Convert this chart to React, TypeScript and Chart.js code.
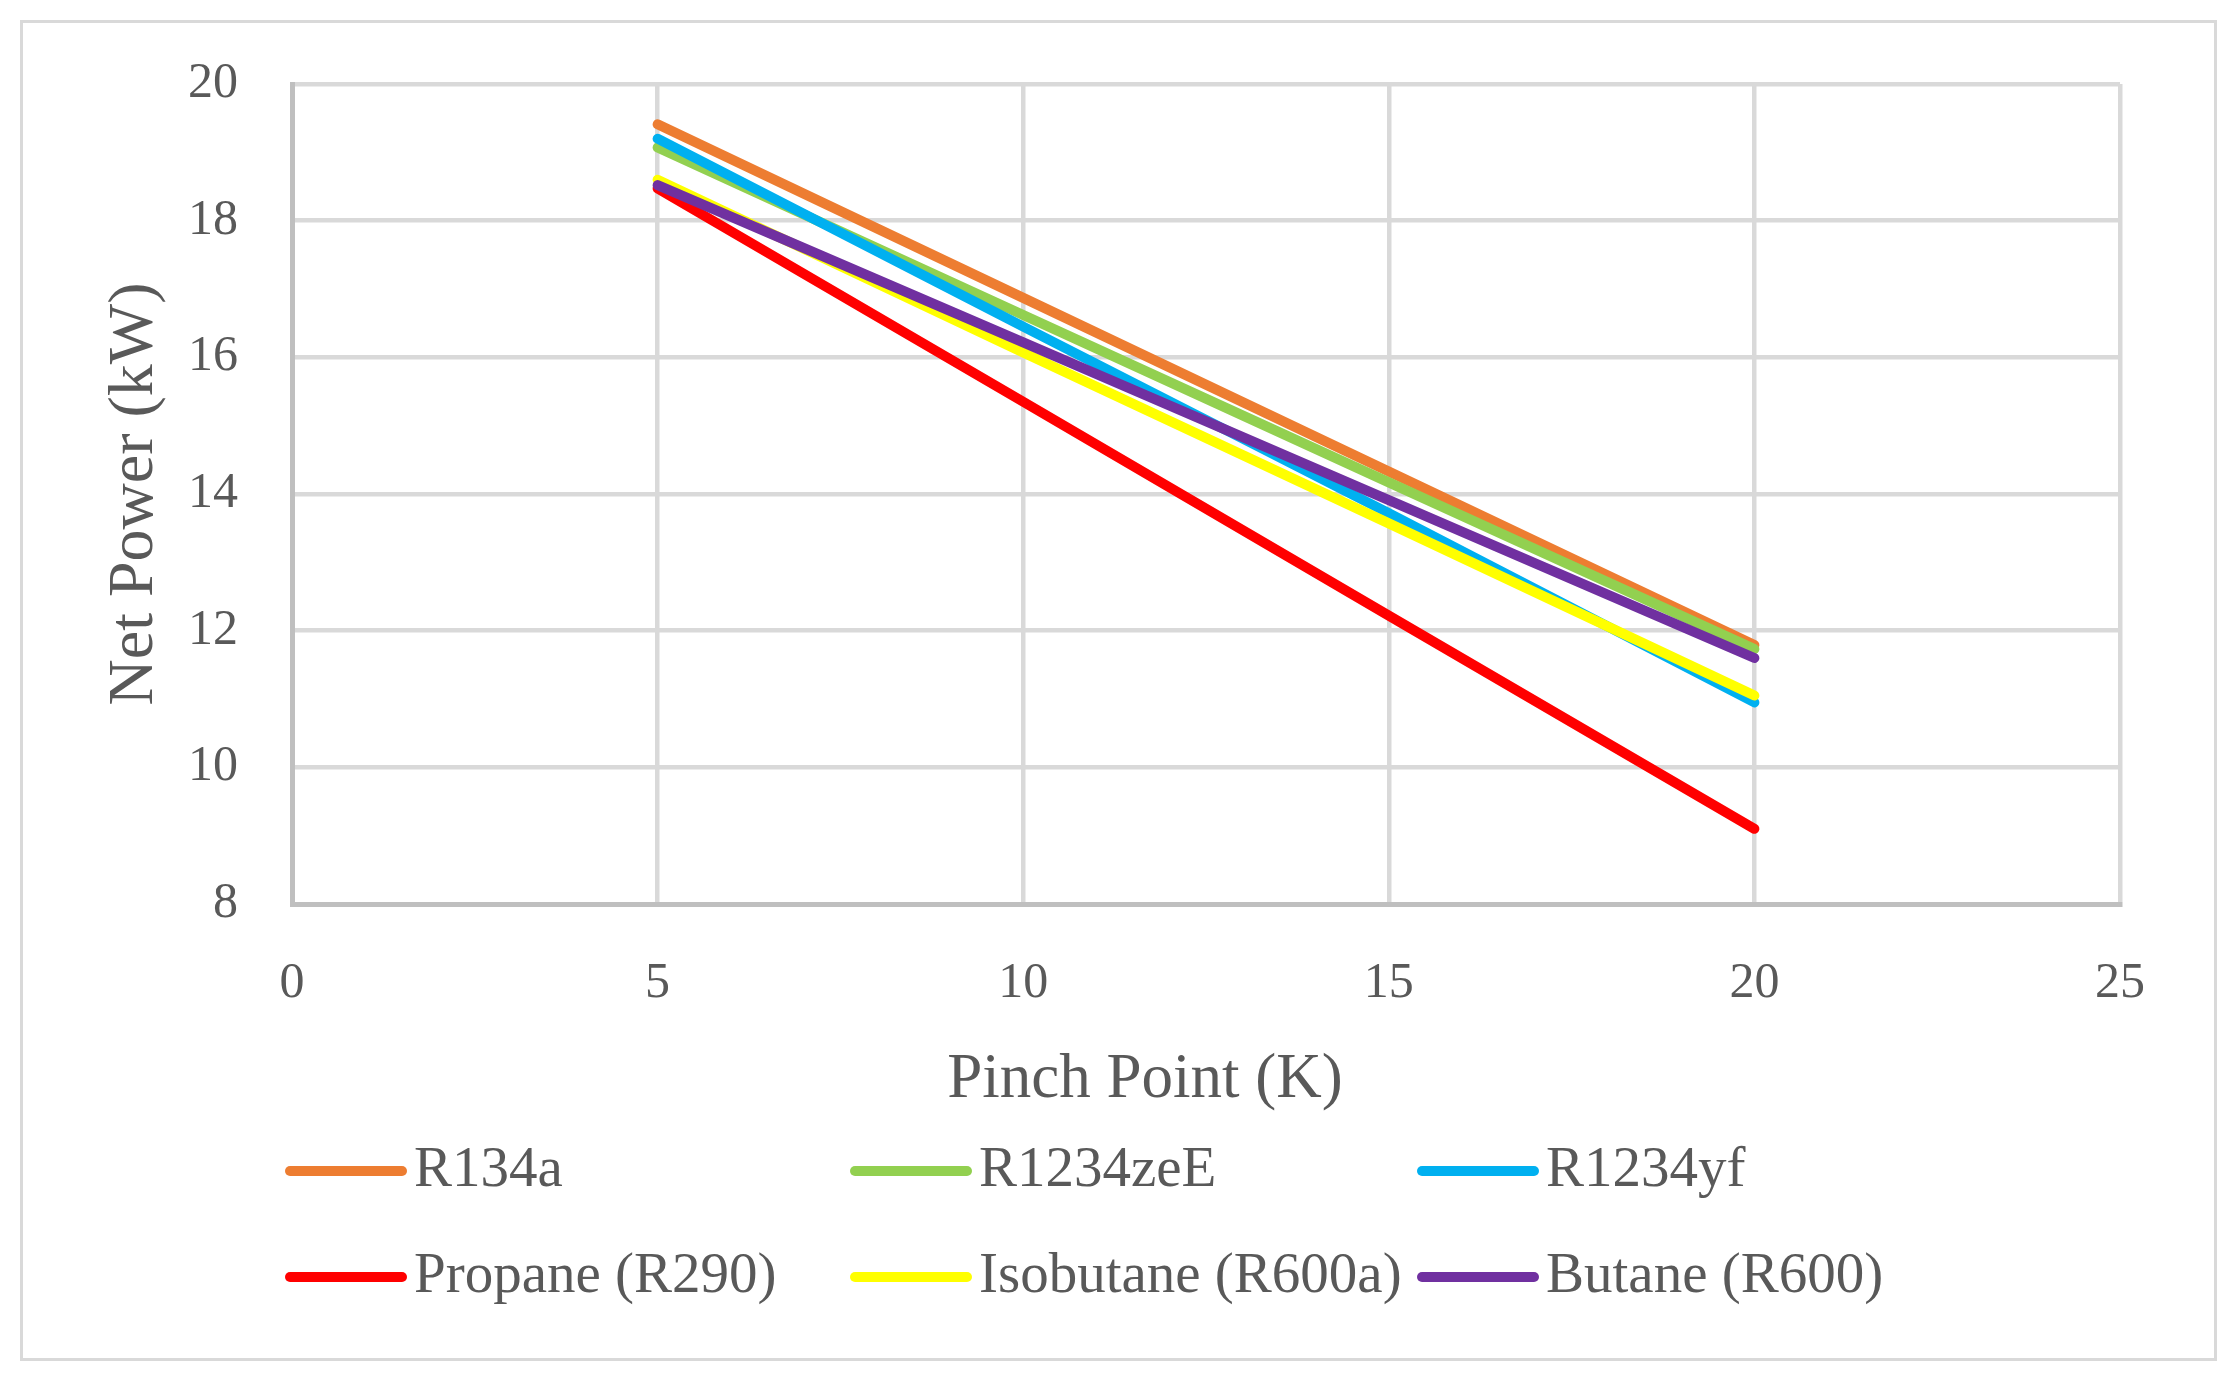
import React, { useEffect, useRef } from "react";
import { Chart, registerables } from "chart.js";

Chart.register(...registerables);

// ---- data ----
const pinchPoints = [5, 10, 15, 20];
const seriesNames = [
  "R134a",
  "R1234zeE",
  "R1234yf",
  "Propane (R290)",
  "Isobutane (R600a)",
  "Butane (R600)",
];
const r134a = [19.41, 16.87, 14.33, 11.79];
const r1234zeE = [19.07, 16.62, 14.17, 11.73];
const r1234yf = [19.2, 16.45, 13.72, 10.95];
const propane = [18.47, 15.35, 12.22, 9.1];
const isobutane = [18.6, 16.07, 13.57, 11.05];
const butane = [18.52, 16.22, 13.91, 11.6];
const seriesValues = [r134a, r1234zeE, r1234yf, propane, isobutane, butane];
const seriesColors = ["#ED7D31", "#92D050", "#00B0F0", "#FF0000", "#FFFF00", "#7030A0"];
const xAxisTitle = "Pinch Point (K)";
const yAxisTitle = "Net Power (kW)";
const xRange = [0, 25, 5];
const yRange = [8, 20, 2];

const FONT = '"Liberation Serif", "Times New Roman", serif';
const TEXT = "#595959";

const legendPlugin = {
  id: "excelLegend",
  afterDraw(chart: any) {
    const ctx = chart.ctx as CanvasRenderingContext2D;
    const cols = [285, 850, 1417];
    const rows = [1171, 1277];
    ctx.save();
    // x axis title (Excel places it slightly left of the plot centre)
    ctx.fillStyle = TEXT;
    ctx.font = `63px ${FONT}`;
    ctx.textBaseline = "middle";
    ctx.textAlign = "center";
    ctx.fillText(xAxisTitle, 1145, 1080);
    chart.data.datasets.forEach((ds: any, i: number) => {
      const x = cols[i % 3];
      const y = rows[Math.floor(i / 3)];
      ctx.strokeStyle = ds.borderColor;
      ctx.lineWidth = 10;
      ctx.lineCap = "round";
      ctx.beginPath();
      ctx.moveTo(x + 5, y);
      ctx.lineTo(x + 117, y);
      ctx.stroke();
      ctx.fillStyle = TEXT;
      ctx.font = `57px ${FONT}`;
      ctx.textBaseline = "middle";
      ctx.textAlign = "left";
      ctx.fillText(ds.label, x + 129, y);
    });
    ctx.restore();
  },
};

export default function App() {
  const canvasRef = useRef<HTMLCanvasElement | null>(null);

  useEffect(() => {
    if (!canvasRef.current) return;
    const datasets = seriesNames.map((name, i) => ({
      label: name,
      data: pinchPoints.map((x, j) => ({ x, y: seriesValues[i][j] })),
      borderColor: seriesColors[i],
      backgroundColor: seriesColors[i],
      borderWidth: 10,
      borderCapStyle: "round" as const,
      borderJoinStyle: "round" as const,
      pointRadius: 0,
      pointHoverRadius: 0,
      tension: 0,
      fill: false,
      order: seriesNames.length - 1 - i,
    }));

    const chart = new Chart(canvasRef.current, {
      type: "line",
      data: { datasets },
      plugins: [legendPlugin],
      options: {
        animation: false,
        responsive: false,
        devicePixelRatio: 1,
        layout: { padding: { left: 0, top: 81, right: 117, bottom: 265 } },
        plugins: {
          legend: { display: false },
          tooltip: { enabled: false },
          title: { display: false },
        },
        scales: {
          x: {
            type: "linear",
            min: xRange[0],
            max: xRange[1],
            afterFit: (scale: any) => {
              scale.height = 212;
            },
            ticks: {
              stepSize: xRange[2],
              color: TEXT,
              font: { family: FONT, size: 50, lineHeight: 1.2 },
              padding: 50,
              maxRotation: 0,
            },
            grid: { color: "#d9d9d9", lineWidth: 4.5, drawTicks: false, tickLength: 0 },
            border: { color: "#bfbfbf", width: 5 },
            title: { display: false, text: xAxisTitle },
          },
          y: {
            type: "linear",
            min: yRange[0],
            max: yRange[1],
            afterFit: (scale: any) => {
              scale.width = 292;
            },
            ticks: {
              stepSize: yRange[2],
              color: TEXT,
              font: { family: FONT, size: 50, lineHeight: 1.2 },
              padding: 54,
            },
            grid: { color: "#d9d9d9", lineWidth: 4.5, drawTicks: false, tickLength: 0 },
            border: { color: "#bfbfbf", width: 5 },
            title: {
              display: true,
              text: yAxisTitle,
              color: TEXT,
              font: { family: FONT, size: 64, lineHeight: 1.2 },
              padding: { top: 97, bottom: 0 },
            },
          },
        },
      },
    });
    return () => chart.destroy();
  }, []);

  return (
    <div
      style={{
        position: "fixed",
        left: 0,
        top: 0,
        width: 2237,
        height: 1381,
        background: "#ffffff",
        overflow: "hidden",
      }}
    >
      <div
        style={{
          position: "absolute",
          left: 20,
          top: 20,
          width: 2197,
          height: 1341,
          border: "3px solid #d9d9d9",
          boxSizing: "border-box",
        }}
      />
      <canvas
        ref={canvasRef}
        width={2237}
        height={1381}
        style={{ position: "absolute", left: 0, top: 0, width: 2237, height: 1381 }}
      />
    </div>
  );
}
